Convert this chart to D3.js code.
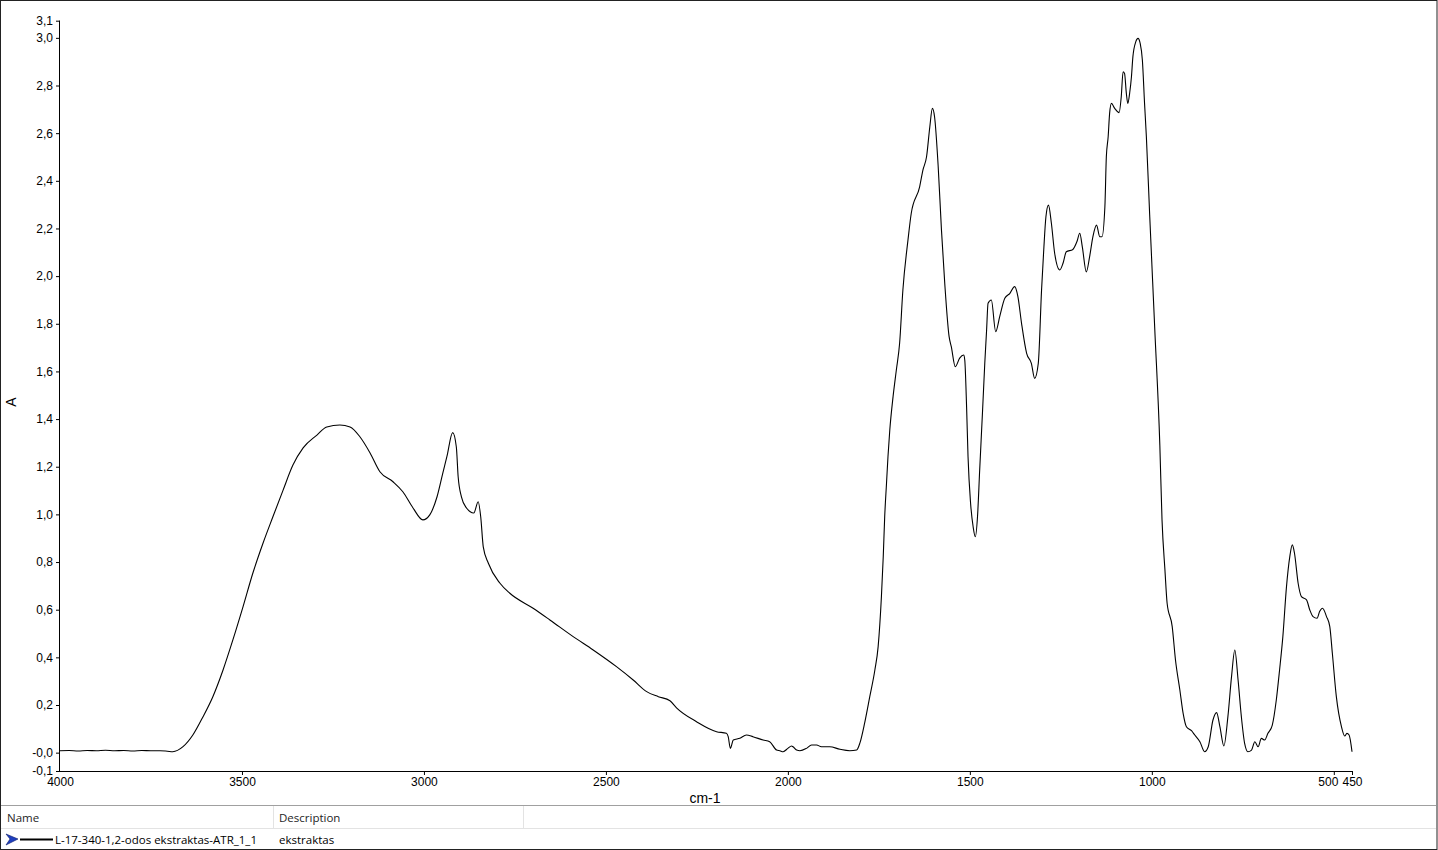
<!DOCTYPE html>
<html>
<head>
<meta charset="utf-8">
<script src="https://cdn.jsdelivr.net/npm/d3@7/dist/d3.min.js"></script>
<style>
  html, body { margin: 0; padding: 0; background: #fff; }
  svg { display: block; }
</style>
</head>
<body>
<svg id="chart" width="1438" height="850"></svg>
<script>
// ---- Data ----
const wavenumbers = [
  4000, 3975, 3950, 3925, 3900, 3875, 3850, 3825, 3800, 3775, 3750, 3725, 3705,
  3690, 3662, 3635, 3607, 3580, 3552, 3525, 3497, 3470, 3442, 3415, 3387, 3360,
  3332, 3294, 3267, 3231, 3203, 3176, 3148, 3121, 3085, 3058, 3030, 3003, 2984,
  2964, 2948, 2937, 2921, 2911, 2906, 2897, 2883, 2863, 2851, 2844, 2837, 2823,
  2791, 2764, 2700, 2654, 2590, 2535, 2471, 2425, 2388, 2356, 2324, 2306, 2251,
  2196, 2169, 2164, 2158, 2150, 2132, 2114, 2096, 2068, 2050, 2031, 2022, 2013,
  2000, 1990, 1986, 1976, 1967, 1949, 1935, 1921, 1908,
  1885, 1857, 1830, 1811, 1802, 1789, 1775, 1761, 1752, 1743, 1738, 1734, 1729,
  1725, 1720, 1711, 1702, 1693, 1684, 1670, 1661, 1638, 1629, 1619, 1610, 1603,
  1597, 1587, 1578, 1569, 1557, 1551, 1540, 1528, 1517, 1514, 1509, 1505, 1498,
  1491, 1485, 1479, 1473, 1465, 1459, 1454, 1450, 1441, 1429, 1418, 1404, 1390,
  1377, 1368, 1358, 1344, 1331, 1322, 1312, 1303, 1297, 1291, 1284, 1276, 1267,
  1253, 1244, 1235, 1217, 1206, 1198, 1191, 1180, 1171, 1162, 1152, 1143, 1137,
  1129, 1125, 1120, 1116, 1111, 1102, 1090, 1084, 1079, 1075, 1070, 1066, 1061,
  1056, 1052, 1044, 1038, 1032, 1026, 1020, 1015, 1006, 992, 978, 972, 964, 958,
  944, 935, 923, 914, 905, 891, 882, 868, 855, 845, 832, 822, 813, 802, 791, 781,
  772, 763, 754, 745, 736, 726, 717, 708, 699, 690, 681, 669, 658, 649, 640, 630,
  621, 614, 608, 598, 589, 575, 566, 557, 546, 539, 531, 520, 511, 504, 493, 479,
  470, 464, 458, 450
];
const absorbance = [
  0.008, 0.009, 0.007, 0.009, 0.008, 0.010, 0.008, 0.009, 0.007, 0.009, 0.008, 0.008, 0.006,
  0.004, 0.025, 0.074, 0.151, 0.235, 0.347, 0.473, 0.613, 0.754, 0.880, 0.990, 1.102, 1.207,
  1.279, 1.333, 1.367, 1.375, 1.367, 1.326, 1.258, 1.179, 1.137, 1.095, 1.027, 0.977, 0.998,
  1.074, 1.174, 1.242, 1.343, 1.283, 1.158, 1.074, 1.027, 1.006, 1.053, 0.990, 0.864, 0.795,
  0.711, 0.669, 0.606, 0.557, 0.487, 0.431, 0.361, 0.305, 0.256, 0.235, 0.218, 0.188, 0.130,
  0.088, 0.081, 0.067, 0.018, 0.053, 0.060, 0.074, 0.067, 0.053, 0.046, 0.011, 0.008, 0.004,
  0.018, 0.028, 0.025, 0.011, 0.008, 0.018, 0.032, 0.032, 0.025,
  0.025, 0.014, 0.008, 0.011, 0.041, 0.125, 0.235, 0.347, 0.445, 0.655, 0.822, 0.990, 1.131,
  1.242, 1.354, 1.494, 1.606, 1.718, 1.942, 2.152, 2.264, 2.375, 2.445, 2.501, 2.627, 2.704,
  2.669, 2.459, 2.193, 1.970, 1.746, 1.704, 1.620, 1.656, 1.669, 1.648, 1.452, 1.242, 1.047,
  0.948, 0.906, 0.990, 1.186, 1.438, 1.634, 1.774, 1.886, 1.900, 1.767, 1.830, 1.907, 1.928,
  1.956, 1.914, 1.802, 1.676, 1.634, 1.571, 1.634, 1.942, 2.110, 2.249, 2.298, 2.222, 2.096,
  2.026, 2.054, 2.102, 2.112, 2.144, 2.180, 2.123, 2.018, 2.081, 2.165, 2.214, 2.165, 2.165,
  2.291, 2.501, 2.585, 2.683, 2.725, 2.704, 2.686, 2.753, 2.858, 2.851, 2.767, 2.725, 2.767,
  2.837, 2.921, 2.984, 2.998, 2.977, 2.907, 2.725, 2.585, 2.260, 1.780, 1.290, 0.977, 0.767, 0.627,
  0.529, 0.389, 0.263, 0.165, 0.109, 0.092, 0.074, 0.046, 0.004, 0.025, 0.137, 0.168, 0.109, 0.028, 0.151, 0.319,
  0.431, 0.305, 0.151, 0.039, 0.004, 0.011, 0.046, 0.025, 0.060, 0.053, 0.081, 0.116, 0.221, 0.347, 0.487, 0.697,
  0.822, 0.872, 0.837, 0.711, 0.655, 0.641, 0.599, 0.571, 0.564, 0.592, 0.606, 0.571, 0.529, 0.417, 0.235, 0.109,
  0.070, 0.081, 0.074, 0.004
];
const xTickValues = [4000, 3500, 3000, 2500, 2000, 1500, 1000, 500, 450];
const xTickLabels = ["4000", "3500", "3000", "2500", "2000", "1500", "1000", "500", "450"];
const yTickValues = [-0.077, 0, 0.2, 0.4, 0.6, 0.8, 1.0, 1.2, 1.4, 1.6, 1.8, 2.0, 2.2, 2.4, 2.6, 2.8, 3.0, 3.072];
const yTickLabels = ["-0,1", "-0,0", "0,2", "0,4", "0,6", "0,8", "1,0", "1,2", "1,4", "1,6", "1,8", "2,0", "2,2", "2,4", "2,6", "2,8", "3,0", "3,1"];
const xDomain = [4000, 450];
const yDomain = [-0.077, 3.072];
const xTitle = "cm-1";
const yTitle = "A";
const legendHeaders = ["Name", "Description"];
const seriesName = "L-17-340-1,2-odos ekstraktas-ATR_1_1";
const seriesDescription = "ekstraktas";

// ---- Drawing ----
const svg = d3.select("#chart");
const W = 1438, H = 850;
const plot = { left: 60, right: 1352, top: 20.7, bottom: 771 };

const x = d3.scaleLinear().domain(xDomain).range([plot.left, plot.right]);
const y = d3.scaleLinear().domain(yDomain).range([plot.bottom, plot.top]);

const font = "'Liberation Sans', Arial, sans-serif";

// outer frame
svg.append("rect").attr("x", 0.5).attr("y", 0.5).attr("width", W - 1.5).attr("height", H - 1)
  .attr("fill", "none").attr("stroke", "#222").attr("stroke-width", 1);

// y axis
const yAxis = d3.axisLeft(y).tickValues(yTickValues).tickSize(4).tickPadding(3)
  .tickFormat((d, i) => yTickLabels[i]);
const gy = svg.append("g").attr("transform", `translate(${plot.left},0)`).call(yAxis);
gy.select(".domain").attr("d", `M-0.5,${plot.top}V${plot.bottom}`).attr("stroke", "#000");
gy.selectAll("text").attr("font-family", font).attr("font-size", 12).attr("fill", "#000");
gy.selectAll("line").attr("stroke", "#000");

// x axis
const xAxis = d3.axisBottom(x).tickValues(xTickValues).tickSize(4).tickPadding(2)
  .tickFormat((d, i) => xTickLabels[i]);
const gx = svg.append("g").attr("transform", `translate(0,${plot.bottom})`).call(xAxis);
gx.select(".domain").attr("d", `M${plot.left},0.5H${plot.right}`).attr("stroke", "#000");
gx.selectAll("text").attr("font-family", font).attr("font-size", 12).attr("fill", "#000");
gx.selectAll("line").attr("stroke", "#000");
gx.selectAll(".tick").filter(d => d === 4000).select("line").remove();
// the "500" label sits slightly left so it does not touch "450"
gx.selectAll(".tick").filter(d => d === 500).select("text").attr("dx", -6);

// axis titles
svg.append("text").attr("x", 705).attr("y", 803).attr("text-anchor", "middle")
  .attr("font-family", font).attr("font-size", 14).text(xTitle);
svg.append("text").attr("transform", "translate(16,402) rotate(-90)").attr("text-anchor", "middle")
  .attr("font-family", font).attr("font-size", 14).text(yTitle);

// spectrum
const pts = wavenumbers.map((w, i) => [w, absorbance[i]]);
const line = d3.line().x(d => x(d[0])).y(d => y(d[1])).curve(d3.curveMonotoneX);
svg.append("path").datum(pts).attr("d", line)
  .attr("fill", "none").attr("stroke", "#000").attr("stroke-width", 1.1);

// legend table
const lg = svg.append("g");
lg.append("line").attr("x1", 1).attr("x2", W - 2).attr("y1", 805.5).attr("y2", 805.5).attr("stroke", "#a0a0a0");
lg.append("rect").attr("x", 1).attr("y", 806).attr("width", W - 3).attr("height", 22).attr("fill", "#fff");
lg.append("line").attr("x1", 1).attr("x2", W - 2).attr("y1", 828.5).attr("y2", 828.5).attr("stroke", "#e3e3e3");
[273.5, 523.5].forEach(cx => {
  lg.append("line").attr("x1", cx).attr("x2", cx).attr("y1", 806).attr("y2", 828).attr("stroke", "#e3e3e3");
});
const lfont = "'Open Sans', 'Noto Sans', sans-serif";
lg.append("text").attr("x", 7).attr("y", 822).attr("font-family", lfont).attr("font-size", 11.5).attr("fill", "#1e1e1e").text(legendHeaders[0]);
lg.append("text").attr("x", 279).attr("y", 822).attr("font-family", lfont).attr("font-size", 11.5).attr("fill", "#1e1e1e").text(legendHeaders[1]);
// selection arrow icon
lg.append("path").attr("d", "M6,834 L18,839 L6,845 L10,839 Z").attr("fill", "#1f3fbf").attr("stroke", "#0a1a6a").attr("stroke-width", 0.6);
lg.append("line").attr("x1", 20).attr("x2", 53).attr("y1", 839.5).attr("y2", 839.5).attr("stroke", "#000").attr("stroke-width", 2);
lg.append("text").attr("x", 55).attr("y", 844).attr("font-family", lfont).attr("font-size", 11.5).attr("fill", "#000").text(seriesName);
lg.append("text").attr("x", 279).attr("y", 844).attr("font-family", lfont).attr("font-size", 11.5).attr("fill", "#000").text(seriesDescription);
</script>
</body>
</html>
